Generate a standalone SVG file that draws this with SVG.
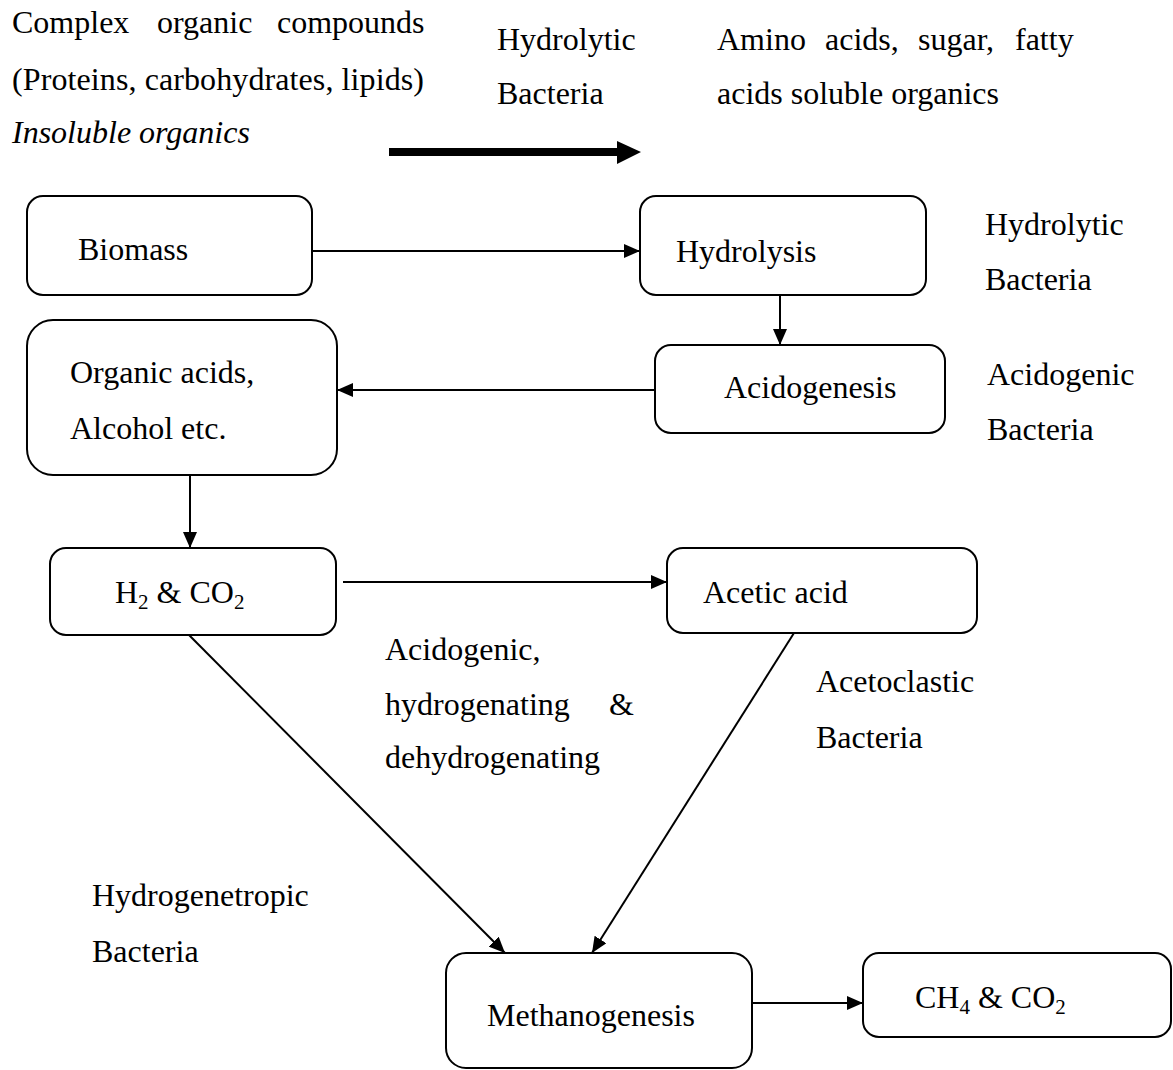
<svg xmlns="http://www.w3.org/2000/svg" width="1173" height="1070" viewBox="0 0 1173 1070">
<style>
text{font-family:"Liberation Serif","Times New Roman",serif;font-size:32px;fill:#000}
.it{font-style:italic}
.sub{font-size:21px}
.box{fill:#fff;stroke:#000;stroke-width:2}
.con{stroke:#000;stroke-width:2;fill:none}
</style>
<defs>
<marker id="ah" markerUnits="userSpaceOnUse" markerWidth="16" markerHeight="14" refX="16" refY="7" orient="auto">
<path d="M0,0 L16,7 L0,14 z" fill="#000"/>
</marker>
</defs>
<rect width="1173" height="1070" fill="#fff"/>

<g id="labels">
<text y="33"><tspan x="12">Complex</tspan><tspan x="157">organic</tspan><tspan x="277">compounds</tspan></text>
<text x="12" y="90" textLength="412" lengthAdjust="spacing">(Proteins, carbohydrates, lipids)</text>
<text x="12" y="143" class="it">Insoluble organics</text>
<text x="497" y="50">Hydrolytic</text>
<text x="497" y="104">Bacteria</text>
<text y="50"><tspan x="717">Amino</tspan><tspan x="825">acids,</tspan><tspan x="918">sugar,</tspan><tspan x="1015">fatty</tspan></text>
<text x="717" y="104">acids soluble organics</text>
<text x="985" y="235">Hydrolytic</text>
<text x="985" y="290">Bacteria</text>
<text x="987" y="385">Acidogenic</text>
<text x="987" y="440">Bacteria</text>
<text x="385" y="660">Acidogenic,</text>
<text y="715"><tspan x="385">hydrogenating</tspan><tspan x="609">&amp;</tspan></text>
<text x="385" y="768">dehydrogenating</text>
<text x="816" y="692">Acetoclastic</text>
<text x="816" y="748">Bacteria</text>
<text x="92" y="906">Hydrogenetropic</text>
<text x="92" y="962">Bacteria</text>
</g>

<g id="connectors">
<rect x="389" y="148" width="229" height="8" fill="#000"/>
<polygon points="617,141 641,152 617,164" fill="#000"/>
<line class="con" x1="312" y1="251" x2="640" y2="251" marker-end="url(#ah)"/>
<line class="con" x1="780" y1="295" x2="780" y2="345" marker-end="url(#ah)"/>
<line class="con" x1="655" y1="390" x2="337" y2="390" marker-end="url(#ah)"/>
<line class="con" x1="190" y1="475" x2="190" y2="548" marker-end="url(#ah)"/>
<line class="con" x1="343" y1="582" x2="667" y2="582" marker-end="url(#ah)"/>
<line class="con" x1="189" y1="635" x2="505" y2="953" marker-end="url(#ah)"/>
<line class="con" x1="794" y1="633" x2="592" y2="953" marker-end="url(#ah)"/>
<line class="con" x1="752" y1="1003" x2="863" y2="1003" marker-end="url(#ah)"/>
</g>

<g id="biomass">
<rect class="box" x="27" y="196" width="285" height="99" rx="16"/>
<text x="78" y="260">Biomass</text>
</g>
<g id="hydrolysis">
<rect class="box" x="640" y="196" width="286" height="99" rx="16"/>
<text x="676" y="262">Hydrolysis</text>
</g>
<g id="acidogenesis">
<rect class="box" x="655" y="345" width="290" height="88" rx="16"/>
<text x="724" y="398">Acidogenesis</text>
</g>
<g id="organic-acids">
<rect class="box" x="27" y="320" width="310" height="155" rx="26"/>
<text x="70" y="383">Organic acids,</text>
<text x="70" y="439">Alcohol etc.</text>
</g>
<g id="h2-co2">
<rect class="box" x="50" y="548" width="286" height="87" rx="16"/>
<text x="115" y="603">H<tspan class="sub" dy="6">2</tspan><tspan dy="-6"> &amp; CO</tspan><tspan class="sub" dy="6">2</tspan></text>
</g>
<g id="acetic-acid">
<rect class="box" x="667" y="548" width="310" height="85" rx="16"/>
<text x="703" y="603">Acetic acid</text>
</g>
<g id="methanogenesis">
<rect class="box" x="446" y="953" width="306" height="115" rx="20"/>
<text x="487" y="1026">Methanogenesis</text>
</g>
<g id="ch4-co2">
<rect class="box" x="863" y="953" width="308" height="84" rx="16"/>
<text x="915" y="1008">CH<tspan class="sub" dy="6">4</tspan><tspan dy="-6"> &amp; CO</tspan><tspan class="sub" dy="6">2</tspan></text>
</g>
</svg>
